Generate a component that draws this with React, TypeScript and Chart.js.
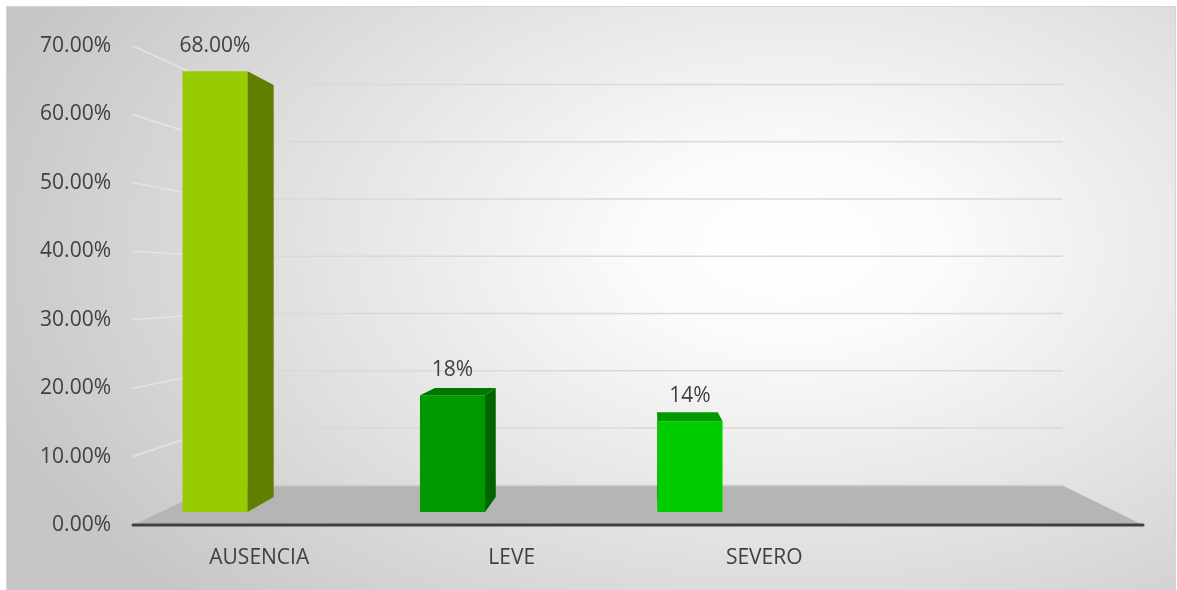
import React, { useEffect, useRef } from "react";
import { Chart, registerables } from "chart.js";

Chart.register(...registerables);

// ---------- data ----------
const categories = ["AUSENCIA", "LEVE", "SEVERO", ""];
const barPositions = [0, 1, 2];
const values = [68, 18, 14];
const dataLabels = ["68.00%", "18%", "14%"];
const yTickValues = [0, 10, 20, 30, 40, 50, 60, 70];
const yTickLabels = ["0.00%", "10.00%", "20.00%", "30.00%", "40.00%", "50.00%", "60.00%", "70.00%"];

// ---------- styles ----------
const frontColors = ["#99cc00", "#009900", "#00cc00"];
const sideColors = ["#628000", "#006400", "#006400"];
const topColors = ["#7aa300", "#007800", "#009900"];
const TEXT = "#404040";
const FONT = { family: "'Open Sans'", size: 21 };

// perspective parameters
const VX = 650;
const VY = 282;
const WALL_DEPTH = 0.163;
const BAR_DEPTH = 0.065;

const proj = (x: number, y: number, t: number): [number, number] => [x + t * (VX - x), y + t * (VY - y)];

const scenePlugin = {
  id: "scene3d",
  beforeDatasetsDraw(chart: any) {
    const { ctx, chartArea: a, scales } = chart;
    const ys = scales.y;
    const y0 = ys.getPixelForValue(0);
    const bl = proj(a.left, y0, WALL_DEPTH);
    const br = proj(a.right, y0, WALL_DEPTH);
    ctx.save();
    // floor
    ctx.fillStyle = "#b5b5b5";
    ctx.beginPath();
    ctx.moveTo(a.left, y0);
    ctx.lineTo(a.right, y0);
    ctx.lineTo(br[0], br[1]);
    ctx.lineTo(bl[0], bl[1]);
    ctx.closePath();
    ctx.fill();
    // walls grid
    yTickValues.forEach((v) => {
      const py = ys.getPixelForValue(v);
      const p1 = proj(a.left, py, WALL_DEPTH);
      const p2 = proj(a.right, py, WALL_DEPTH);
      if (v > 0) {
        ctx.strokeStyle = "#e4e4e4";
        ctx.lineWidth = 1.5;
        ctx.beginPath();
        ctx.moveTo(a.left, py);
        ctx.lineTo(p1[0], p1[1]);
        ctx.stroke();
        ctx.strokeStyle = "#d9d9d9";
      } else {
        ctx.strokeStyle = "#cfcfcf";
      }
      ctx.lineWidth = 1.5;
      ctx.beginPath();
      ctx.moveTo(p1[0], p1[1]);
      ctx.lineTo(p2[0], p2[1]);
      ctx.stroke();
    });
    // front axis edge
    ctx.strokeStyle = TEXT;
    ctx.lineWidth = 3;
    ctx.lineCap = "round";
    ctx.beginPath();
    ctx.moveTo(a.left, y0);
    ctx.lineTo(a.right, y0);
    ctx.stroke();
    ctx.restore();
  },
  afterDatasetsDraw(chart: any) {
    const { ctx } = chart;
    const meta = chart.getDatasetMeta(0);
    ctx.save();
    meta.data.forEach((bar: any, i: number) => {
      const { x, y, base, width } = bar.getProps(["x", "y", "base", "width"], true);
      const l = x - width / 2;
      const r = x + width / 2;
      const poly = (pts: [number, number][], color: string) => {
        ctx.fillStyle = color;
        ctx.beginPath();
        ctx.moveTo(pts[0][0], pts[0][1]);
        for (let k = 1; k < pts.length; k++) ctx.lineTo(pts[k][0], pts[k][1]);
        ctx.closePath();
        ctx.fill();
      };
      if (r < VX) {
        poly([[r, y], proj(r, y, BAR_DEPTH), proj(r, base, BAR_DEPTH), [r, base]], sideColors[i]);
      } else if (l > VX - 2) {
        poly([[l, y], proj(l, y, BAR_DEPTH), proj(l, base, BAR_DEPTH), [l, base]], sideColors[i]);
      }
      if (y > VY) {
        poly([[l, y], [r, y], proj(r, y, BAR_DEPTH), proj(l, y, BAR_DEPTH)], topColors[i]);
      }
      ctx.fillStyle = TEXT;
      ctx.font = `${FONT.size}px ${FONT.family}`;
      ctx.textAlign = "center";
      ctx.textBaseline = "middle";
      ctx.fillText(dataLabels[i], x, y - 25);
    });
    ctx.restore();
  },
};

export default function App() {
  const ref = useRef<HTMLCanvasElement | null>(null);
  useEffect(() => {
    if (!ref.current) return;
    const chart = new Chart(ref.current, {
      type: "bar",
      data: {
        labels: categories,
        datasets: [
          {
            data: barPositions.map((p, i) => ({ x: p, y: values[i] })) as any,
            backgroundColor: frontColors,
            borderWidth: 0,
            xAxisID: "xb",
            yAxisID: "yb",
            categoryPercentage: 1,
            barPercentage: 0.274,
          },
        ],
      },
      options: {
        responsive: false,
        animation: false,
        devicePixelRatio: 1,
        layout: { padding: { top: 46, right: 34, left: 0, bottom: 0 } },
        plugins: {
          legend: { display: false },
          tooltip: { enabled: false },
          title: { display: false },
        },
        scales: {
          x: {
            type: "category",
            offset: true,
            position: "bottom",
            grid: { display: false, drawTicks: false },
            border: { display: false },
            ticks: { padding: 20, font: FONT, color: TEXT, maxRotation: 0, autoSkip: false },
            afterFit: (s: any) => {
              s.height = 65;
            },
          },
          y: {
            type: "linear",
            position: "left",
            min: 0,
            max: 70,
            afterBuildTicks: (s: any) => {
              s.ticks = yTickValues.map((v) => ({ value: v }));
            },
            ticks: {
              padding: 22,
              font: FONT,
              color: TEXT,
              callback: (v: any) => yTickLabels[yTickValues.indexOf(Number(v))],
            },
            grid: { display: false, drawTicks: false },
            border: { display: false },
            afterFit: (s: any) => {
              s.width = 133;
            },
          },
          xb: {
            type: "linear",
            display: false,
            offset: false,
            grid: { offset: false },
            min: -0.3453,
            max: 3.9074,
            afterBuildTicks: (s: any) => {
              s.ticks = barPositions.map((v) => ({ value: v }));
            },
          },
          yb: { type: "linear", display: false, min: -2.0, max: 71.9 },
        },
      } as any,
      plugins: [scenePlugin],
    });
    return () => chart.destroy();
  }, []);

  return (
    <div style={{ position: "absolute", left: 0, top: 0, width: 1177, height: 590, overflow: "hidden" }}>
      <div
        style={{
          position: "absolute",
          left: 6,
          top: 6,
          width: 1168,
          height: 600,
          border: "1px solid #d4d4d4",
          background:
            "radial-gradient(ellipse 72% 85% at 67% 40%, #ffffff 0%, #fbfbfb 18%, #e4e4e4 55%, #c6c6c6 100%)",
        }}
      />
      <canvas ref={ref} width={1177} height={590} style={{ position: "absolute", left: 0, top: 0 }} />
    </div>
  );
}
